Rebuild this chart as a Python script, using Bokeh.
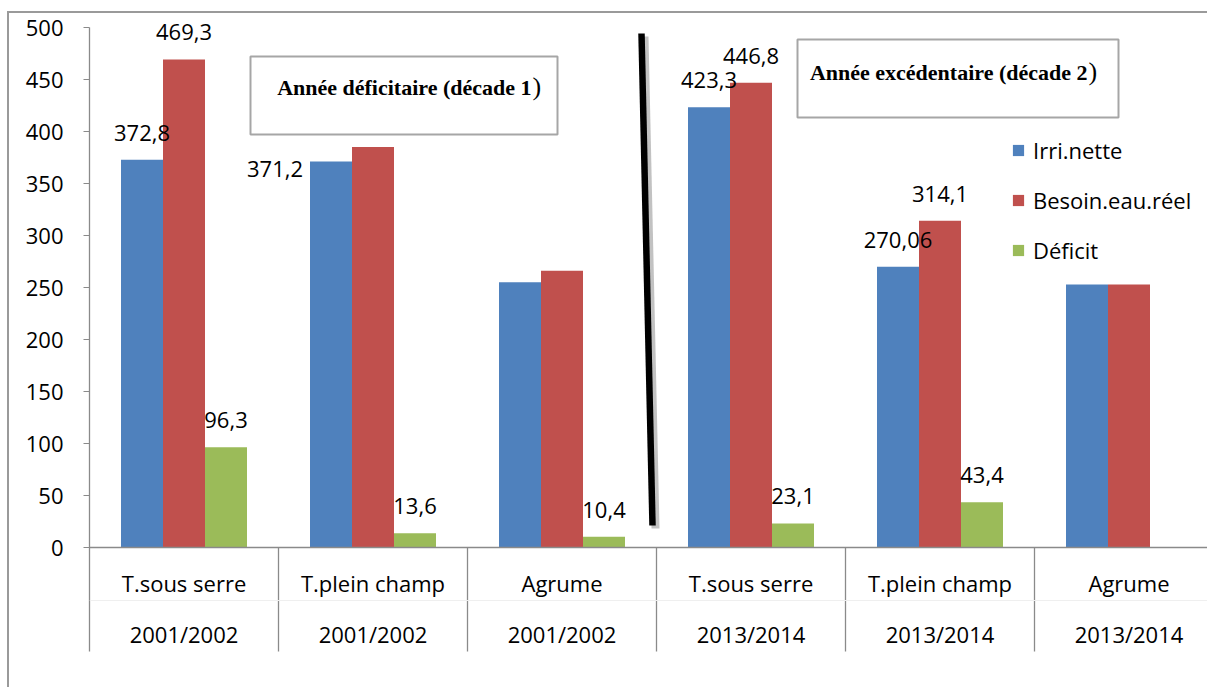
from bokeh.plotting import figure
from bokeh.models import (Range1d, FixedTicker, ColumnDataSource, Legend, LegendItem, Span)
from bokeh.core.properties import value
from bokeh.embed import file_html
from bokeh.resources import INLINE

# ---------------- data ----------------
crops = ["T.sous serre", "T.plein champ", "Agrume", "T.sous serre", "T.plein champ", "Agrume"]
years = ["2001/2002", "2001/2002", "2001/2002", "2013/2014", "2013/2014", "2013/2014"]
series_names = ["Irri.nette", "Besoin.eau.réel", "Déficit"]
irri_nette = [372.8, 371.2, 255.0, 423.3, 270.06, 253.0]
besoin_eau_reel = [469.3, 385.0, 266.0, 446.8, 314.1, 253.0]
deficit = [96.3, 13.6, 10.4, 23.1, 43.4, 0.0]
irri_labels = ["372,8", "371,2", "", "423,3", "270,06", ""]
besoin_labels = ["469,3", "", "", "446,8", "314,1", ""]
deficit_labels = ["96,3", "13,6", "10,4", "23,1", "43,4", ""]
y_ticks = [0, 50, 100, 150, 200, 250, 300, 350, 400, 450, 500]
note1 = "Année déficitaire (décade 1"
note2 = "Année excédentaire (décade 2"

# ---------------- layout constants (page pixels) ----------------
PAGE_W, PAGE_H = 1209, 689
OX, OY = 7, 11      # outer frame offset
BORDER = 2          # outer frame line width
LEFT = 89           # page x of y axis
ZERO = 547          # page y of value 0
PXC = 189.0         # pixels per category
PYU = 1.04          # pixels per unit
colors = ["#4F81BD", "#C0504D", "#9BBB59"]
FONT = "Open Sans"
FS = "22px"

W = PAGE_W - OX - BORDER
H = PAGE_H - OY - BORDER
TOP0 = OY + BORDER  # page y of figure top

def dx(px):
    return (px - LEFT) / PXC

def dy(py):
    return (ZERO - py) / PYU

p = figure(width=W, height=H, output_backend="svg", toolbar_location=None,
           x_range=Range1d(0, dx(PAGE_W)), y_range=Range1d(dy(PAGE_H), dy(TOP0)),
           x_axis_location=None, min_border_left=LEFT - OX - BORDER, min_border_right=0,
           min_border_top=0, min_border_bottom=0)
p.styles = {"margin-left": f"{OX}px", "margin-top": f"{OY}px",
            "border-left": f"{BORDER}px solid #9a9a9a",
            "border-top": f"{BORDER}px solid #9a9a9a"}
p.outline_line_color = None
p.xgrid.visible = False
p.ygrid.visible = False
p.background_fill_color = "white"
p.border_fill_color = "white"

# y axis
ya = p.yaxis[0]
ya.ticker = FixedTicker(ticks=y_ticks)
ya.bounds = (dy(651), 500)
ya.axis_line_color = "#8a8a8a"
ya.axis_line_width = 1.3
ya.major_tick_line_color = "#8a8a8a"
ya.major_tick_out = 6
ya.major_tick_in = 0
ya.minor_tick_line_color = None
ya.major_label_standoff = 20
ya.major_label_text_font = FONT
ya.major_label_text_font_size = FS
ya.major_label_text_color = "black"

# bars
bw = 2.0 / 9.0
n = len(crops)
series = [irri_nette, besoin_eau_reel, deficit]
labels = [irri_labels, besoin_labels, deficit_labels]
renderers = []
for k, (vals, col) in enumerate(zip(series, colors)):
    xs = [i + 0.5 + (k - 1) * bw for i in range(n)]
    src = ColumnDataSource(dict(x=xs, top=vals))
    r = p.vbar(x="x", top="top", width=bw, bottom=0, source=src,
               fill_color=col, line_color=None)
    renderers.append(r)

# x axis line, category separators and faint row line
p.add_layout(Span(location=0, dimension="width", line_color="#8a8a8a", line_width=1.3))
p.add_layout(Span(location=dy(600), dimension="width", line_color="#efefef", line_width=1))
sep_x = list(range(1, n))
p.segment(x0=sep_x, y0=[0] * len(sep_x), x1=sep_x, y1=[dy(651)] * len(sep_x),
          line_color="#8a8a8a", line_width=1.3)

# category labels (two rows)
cx = [i + 0.5 for i in range(n)]
p.text(x=cx, y=[0] * n, text=crops, y_offset=35, text_align="center",
       text_baseline="middle", text_font=value(FONT), text_font_size=FS, text_color="black")
p.text(x=cx, y=[0] * n, text=years, y_offset=86, text_align="center",
       text_baseline="middle", text_font=value(FONT), text_font_size=FS, text_color="black")

# data labels
lx, ly, lt, lxo, lyo = [], [], [], [], []
for k, (vals, labs) in enumerate(zip(series, labels)):
    for i in range(n):
        if not labs[i]:
            continue
        lx.append(i + 0.5 + (k - 1) * bw)
        ly.append(vals[i])
        lt.append(labs[i])
        if k == 0 and i == 1:
            lxo.append(-56)
            lyo.append(8)
        else:
            lxo.append(0)
            lyo.append(-27)
lsrc = ColumnDataSource(dict(x=lx, y=ly, text=lt, xo=lxo, yo=lyo))
p.text(x="x", y="y", text="text", x_offset="xo", y_offset="yo", source=lsrc,
       text_align="center", text_baseline="middle", text_font=value(FONT),
       text_font_size=FS, text_color="black")

# annotation boxes
p.quad(left=[dx(250), dx(797)], right=[dx(557), dx(1118)],
       top=[dy(56), dy(39)], bottom=[dy(134), dy(117)],
       fill_color="white", line_color="#a6a6a6", line_width=2)
p.text(x=[dx(531), dx(1087)], y=[dy(87), dy(72)], text=[note1, note2], text_align="right",
       text_baseline="middle", text_font=value("Liberation Serif"), text_font_style="bold",
       text_font_size="22px", text_color="black")
p.text(x=[dx(532), dx(1088)], y=[dy(86), dy(71)], text=[")", ")"], text_align="left",
       text_baseline="middle", text_font=value("Liberation Serif"),
       text_font_size="26px", text_color="black")

# thick slanted black line with shadow
p.segment(x0=[dx(644)], y0=[dy(36)], x1=[dx(655)], y1=[dy(528)],
          line_color="#9a9a9a", line_alpha=0.6, line_width=8)
p.segment(x0=[dx(641)], y0=[dy(33)], x1=[dx(652)], y1=[dy(525)],
          line_color="black", line_width=6.5)

# legend
legend = Legend(items=[LegendItem(label=nm, renderers=[r]) for nm, r in zip(series_names, renderers)],
                location=(1011 - LEFT, PAGE_H - 265), orientation="vertical",
                glyph_width=14, glyph_height=14, label_height=30, spacing=20,
                label_standoff=8, padding=0, margin=0,
                border_line_color=None, background_fill_alpha=0,
                label_text_font=FONT, label_text_font_size=FS, label_text_color="black")
p.add_layout(legend)

open("out.html", "w").write(file_html(p, INLINE))
